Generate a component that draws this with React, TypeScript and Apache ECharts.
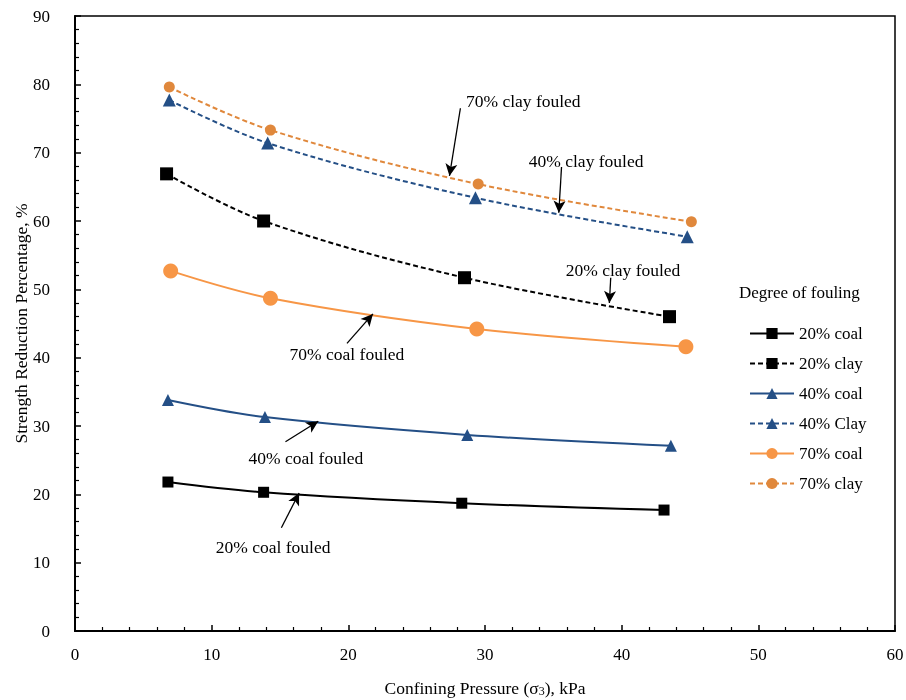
import React, { useEffect, useRef } from "react";
import * as echarts from "echarts";

const coal20X = [6.8, 13.8, 28.3, 43.1];
const coal20Y = [21.8, 20.3, 18.7, 17.7];
const clay20X = [6.7, 13.8, 28.5, 43.5];
const clay20Y = [66.9, 60.0, 51.7, 46.0];
const coal40X = [6.8, 13.9, 28.7, 43.6];
const coal40Y = [33.8, 31.3, 28.7, 27.1];
const clay40X = [6.9, 14.1, 29.3, 44.8];
const clay40Y = [77.7, 71.4, 63.4, 57.7];
const coal70X = [7.0, 14.3, 29.4, 44.7];
const coal70Y = [52.7, 48.7, 44.2, 41.6];
const clay70X = [6.9, 14.3, 29.5, 45.1];
const clay70Y = [79.6, 73.3, 65.4, 59.9];

const seriesNames = ["20% coal", "20% clay", "40% coal", "40% Clay", "70% coal", "70% clay"];

// annotations: label, text anchor (data coords), arrow start, arrow end
const annLabels = ["70% clay fouled", "40% clay fouled", "20% clay fouled", "70% coal fouled", "40% coal fouled", "20% coal fouled"];
const annText: [number, number][] = [[32.8, 77.6], [37.4, 68.8], [40.1, 52.9], [19.9, 40.6], [16.9, 25.3], [14.5, 12.3]];
const annFrom: [number, number][] = [[28.2, 76.5], [35.6, 67.9], [39.2, 51.7], [19.9, 42.1], [15.4, 27.7], [15.1, 15.1]];
const annTo: [number, number][] = [[27.4, 66.6], [35.4, 61.2], [39.1, 48.0], [21.8, 46.4], [17.8, 30.7], [16.4, 20.2]];

const FONT = "'Liberation Serif', 'Times New Roman', serif";
const BLUE = "#244F86";
const ORANGE = "#F79646";
const DORANGE = "#E0883C";

const zip = (xs: number[], ys: number[]) => xs.map((x, i) => [x, ys[i]]);

export default function App() {
  const ref = useRef<HTMLDivElement>(null);
  useEffect(() => {
    if (!ref.current) return;
    const chart = echarts.init(ref.current, null, { renderer: "svg" });
    const mk = (name: string, xs: number[], ys: number[], color: string, dashed: boolean, symbol: string, size: number) => ({
      name,
      type: "line",
      data: zip(xs, ys),
      smooth: 0.35,
      symbol,
      symbolSize: size,
      showSymbol: true,
      lineStyle: { color, width: 2, type: dashed ? [5, 3] : "solid" },
      itemStyle: { color, borderWidth: 0 },
      z: 3,
    });
    const series: any[] = [
      mk(seriesNames[0], coal20X, coal20Y, "#000", false, "rect", 11),
      mk(seriesNames[1], clay20X, clay20Y, "#000", true, "rect", 13),
      mk(seriesNames[2], coal40X, coal40Y, BLUE, false, "triangle", 12),
      mk(seriesNames[3], clay40X, clay40Y, BLUE, true, "triangle", 13),
      mk(seriesNames[4], coal70X, coal70Y, ORANGE, false, "circle", 15),
      mk(seriesNames[5], clay70X, clay70Y, DORANGE, true, "circle", 11),
    ];
    series.push({
      name: "annotations",
      type: "scatter",
      data: annText.map((p, i) => ({ value: p, label: { formatter: annLabels[i] } })),
      symbolSize: 0,
      silent: true,
      itemStyle: { opacity: 1 },
      label: { show: true, position: "inside", color: "#000", opacity: 1, fontFamily: FONT, fontSize: 17.5, textBorderWidth: 0 },
      markLine: {
        silent: true,
        animation: false,
        symbol: ["none", "arrow"],
        symbolSize: [9, 12],
        lineStyle: { color: "#000", width: 1.3, type: "solid", opacity: 1 },
        label: { show: false },
        data: annFrom.map((p, i) => [{ coord: p }, { coord: annTo[i] }]),
      },
    });
    chart.setOption({
      animation: false,
      textStyle: { fontFamily: FONT },
      grid: {
        left: 75, top: 16, right: 11, bottom: 69,
        outerBoundsMode: "none",
        containLabel: false,
        show: true, borderColor: "#000", borderWidth: 1.5,
      },
      legend: {
        data: seriesNames,
        orient: "vertical",
        left: 744,
        top: 320,
        itemWidth: 44,
        itemHeight: 14,
        itemGap: 13,
        textStyle: { fontFamily: FONT, fontSize: 17, color: "#000" },
      },
      graphic: [
        {
          type: "text",
          left: 739,
          top: 284,
          style: { text: "Degree of fouling", fontFamily: FONT, fontSize: 17, fill: "#000" },
        },
      ],
      xAxis: {
        type: "value",
        min: 0,
        max: 60,
        interval: 10,
        name: "{a|Confining Pressure (σ}{s|3}{a|), kPa}",
        nameLocation: "middle",
        nameGap: 48,
        nameTextStyle: {
          rich: {
            a: { fontFamily: FONT, fontSize: 17.5, color: "#000" },
            s: { fontFamily: FONT, fontSize: 12, color: "#000", verticalAlign: "bottom", padding: [6, 0, 0, 0] },
          },
        },
        axisLine: { lineStyle: { color: "#000", width: 2 } },
        axisTick: { inside: true, length: 6, lineStyle: { color: "#000", width: 1.5 } },
        minorTick: { show: true, splitNumber: 5, length: 4, lineStyle: { color: "#000", width: 1.2 } },
        axisLabel: { color: "#000", fontFamily: FONT, fontSize: 17, margin: 15 },
        splitLine: { show: false },
      },
      yAxis: {
        type: "value",
        min: 0,
        max: 90,
        interval: 10,
        name: "Strength Reduction Percentage, %",
        nameLocation: "middle",
        nameMoveOverlap: false,
        nameGap: 45,
        nameTextStyle: { fontFamily: FONT, fontSize: 17.5, color: "#000" },
        axisLine: { lineStyle: { color: "#000", width: 2 } },
        axisTick: { inside: true, length: 6, lineStyle: { color: "#000", width: 1.5 } },
        minorTick: { show: true, splitNumber: 5, length: 4, lineStyle: { color: "#000", width: 1.2 } },
        axisLabel: { color: "#000", fontFamily: FONT, fontSize: 17, margin: 25 },
        splitLine: { show: false },
      },
      series,
    });
    return () => chart.dispose();
  }, []);
  return <div ref={ref} style={{ position: "fixed", left: 0, top: 0, width: 906, height: 700 }} />;
}
